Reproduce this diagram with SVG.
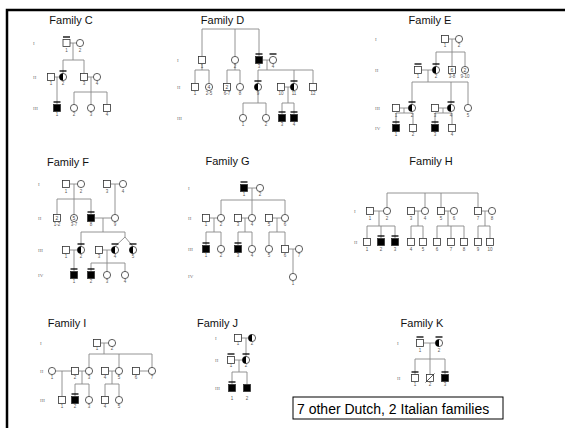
<svg xmlns="http://www.w3.org/2000/svg" xmlns:xlink="http://www.w3.org/1999/xlink" width="565" height="428" viewBox="0 0 565 428">
<style>
.s{fill:#fff;stroke:#333;stroke-width:0.8}
.f{fill:#000}
.t{stroke:#000;stroke-width:1.3}
.ln{fill:none;stroke:#888;stroke-width:0.9}
.ttl{font-family:"Liberation Sans",Arial,sans-serif;font-size:11px;fill:#111;text-anchor:middle}
.lb{font-family:"Liberation Sans",Arial,sans-serif;font-size:4.5px;fill:#555;text-anchor:middle}
.in{font-family:"Liberation Sans",Arial,sans-serif;font-size:5px;fill:#444;text-anchor:middle}
.rn{font-family:"Liberation Serif","Times New Roman",serif;font-size:5px;fill:#777}
</style>
<defs>
<rect id="sq" class="s" x="-3.5" y="-3.5" width="7" height="7"/>
<rect id="sqf" class="s f" x="-3.5" y="-3.5" width="7" height="7"/>
<circle id="ci" class="s" r="3.6"/>
<g id="ch"><circle class="s" r="3.6"/><path class="f" d="M0,-3.6A3.6,3.6 0 0 0 0,3.6Z"/></g>
<line id="tk" class="t" x1="-3.5" y1="-6" x2="3.5" y2="-6"/>
</defs>
<rect width="565" height="428" fill="#fff"/>
<g id="frame"><path d="M7,428V10H565" fill="none" stroke="#000" stroke-width="2.5"/></g>

<g id="connectors">
<path class="ln" d="M70,43H76.4M73,43V60M63,60H84M63,60V73.4M84,60V73.5M54.5,77H59.4M57,77V104.5M87.5,77H93.4M91,77V92M74,92H107M74,92V104.4M91,92V104.4M107,92V104.5"/>
<path class="ln" d="M202,29H259M202,29V56.5M235,29V56.4M259,29V56.5M262.5,60H269.4M202,63.5V70M195,70H209M195,70V83.5M209,70V83.4M235,63.6V70M227,70H240M227,70V83.5M240,70V83.4M267,60V70M258,70H313M258,70V83.4M294,70V83.4M313,70V83.5M284.5,87H290.4M288,87V103M282,103H294M282,103V114.5M294,103V114.5M258,90.6V103M243,103H266M243,103V114.4M266,103V114.4"/>
<path class="ln" d="M448.5,39H455.4M452,39V52M436,52H465M436,52V66.4M452,52V66.5M465,52V66.4M421.5,70H432.4M428,70V82M412,82H468M412,82V104.4M451,82V104.4M468,82V104.4M399.5,108H408.4M404,108V113M396,113H413M396,113V124.5M413,113V124.5M438.5,108H447.4M443,108V113M435,113H452M435,113V124.5M452,113V124.5"/>
<path class="ln" d="M69.5,184H77.4M74,184V199M57,199H91M57,199V214.5M74,199V214.4M91,199V214.5M110.5,184H119.4M115,184V214.4M94.5,218H111.4M103,218V232M81,232H125M81,232V246.4M125,232V237L115,246.5M125,237L133,246.5M69.5,250H77.4M74,250V271.5M102.5,250H111.4M107,250V263M91,263H125M91,263V271.5M107,263V271.4M125,263V271.4"/>
<path class="ln" d="M247.5,188H256.4M252,188V200M221,200H285M221,200V214.4M252,200V214.4M285,200V214.4M209.5,218H217.4M214,218V232M206,232H221M206,232V245.5M221,232V245.4M241.5,218H248.4M245,218V232M238,232H252M238,232V245.5M252,232V245.4M272.5,218H281.4M277,218V232M269,232H285M269,232V245.4M285,232V245.5M288.5,249H295.4M293,249V273.4"/>
<path class="ln" d="M387,193H478M387,193V207.4M425,193V207.4M441,193V207.5M478,193V207.5M373.5,211H383.4M379,211V226M367,226H395M367,226V238.5M381,226V238.5M395,226V238.5M414.5,211H421.4M418,211V226M411,226H423M411,226V238.5M423,226V238.5M444.5,211H450.4M448,211V226M437,226H464M437,226V238.5M451,226V238.5M464,226V238.5M481.5,211H488.4M485,211V226M478,226H490M478,226V238.5M490,226V238.5"/>
<path class="ln" d="M100.5,343H108.4M104,343V354M89,354H152M89,354V367.4M119,354V367.4M152,354V367.4M55.6,371H71.5M62,371V396.5M78.5,371H85.4M82,371V384M75,384H89M75,384V396.5M89,384V396.4M108.5,371H115.4M112,371V384M105,384H119M105,384V396.5M119,384V396.4M139.5,371H148.4"/>
<path class="ln" d="M241.5,338H248.4M246,338V356.4M234.5,360H242.4M239,360V372M232,372H247M232,372V384.5M247,372V384.5"/>
<path class="ln" d="M423.5,343H435.4M430,343V359M415,359H445M415,359V374.5M430,359V374.5M445,359V374.5"/>
</g>

<g id="familyC">
<text class="ttl" x="71" y="24">Family C</text>
<text class="rn" x="33" y="44.5">I</text><text class="rn" x="33" y="78.5">II</text><text class="rn" x="33" y="109.5">III</text>
<g id="C-I1"><use href="#sq" x="66.5" y="43"/><use href="#tk" x="66.5" y="43"/><text class="lb" x="66.5" y="52">1</text></g>
<g id="C-I2"><use href="#ci" x="80" y="43"/><text class="lb" x="80" y="52">2</text></g>
<g id="C-II1"><use href="#sq" x="51" y="77"/><text class="lb" x="51" y="85">1</text></g>
<g id="C-II2"><use href="#ch" x="63" y="77"/><use href="#tk" x="63" y="77"/><text class="lb" x="63" y="85">2</text></g>
<g id="C-II3"><use href="#sq" x="84" y="77"/><text class="lb" x="84" y="85">3</text></g>
<g id="C-II4"><use href="#ci" x="97" y="77"/><text class="lb" x="97" y="85">4</text></g>
<g id="C-III1"><use href="#sqf" x="57" y="108"/><use href="#tk" x="57" y="108"/><text class="lb" x="57" y="116">1</text></g>
<g id="C-III2"><use href="#ci" x="74" y="108"/><text class="lb" x="74" y="116">2</text></g>
<g id="C-III3"><use href="#ci" x="91" y="108"/><text class="lb" x="91" y="116">3</text></g>
<g id="C-III4"><use href="#sq" x="107" y="108"/><text class="lb" x="107" y="116">4</text></g>
</g>

<g id="familyD">
<text class="ttl" x="222.5" y="24">Family D</text>
<text class="rn" x="177" y="61.5">I</text><text class="rn" x="177" y="88.5">II</text><text class="rn" x="177" y="119.5">III</text>
<g id="D-I1"><use href="#sq" x="202" y="60"/><text class="lb" x="202" y="68">1</text></g>
<g id="D-I2"><use href="#ci" x="235" y="60"/><text class="lb" x="235" y="68">2</text></g>
<g id="D-I3"><use href="#sqf" x="259" y="60"/><use href="#tk" x="259" y="60"/><text class="lb" x="259" y="68">3</text></g>
<g id="D-I4"><use href="#ci" x="273" y="60"/><use href="#tk" x="273" y="60"/><text class="lb" x="273" y="68">4</text></g>
<g id="D-II1"><use href="#sq" x="195" y="87"/><text class="lb" x="195" y="95">1</text></g>
<g id="D-II2"><use href="#ci" x="209" y="87"/><text class="in" x="209" y="88.8">4</text><text class="lb" x="209" y="95">2-5</text></g>
<g id="D-II6"><use href="#sq" x="227" y="87"/><text class="in" x="227" y="88.8">2</text><text class="lb" x="227" y="95">6-7</text></g>
<g id="D-II8"><use href="#ci" x="240" y="87"/><text class="lb" x="240" y="95">8</text></g>
<g id="D-II9"><use href="#ch" x="258" y="87"/><use href="#tk" x="258" y="87"/><text class="lb" x="258" y="95">9</text></g>
<g id="D-II10"><use href="#sq" x="281" y="87"/><text class="lb" x="281" y="95">10</text></g>
<g id="D-II11"><use href="#ch" x="294" y="87"/><use href="#tk" x="294" y="87"/><text class="lb" x="294" y="95">11</text></g>
<g id="D-II12"><use href="#sq" x="313" y="87"/><text class="lb" x="313" y="95">12</text></g>
<g id="D-III1"><use href="#ci" x="243" y="118"/><text class="lb" x="243" y="126">1</text></g>
<g id="D-III2"><use href="#ci" x="266" y="118"/><text class="lb" x="266" y="126">2</text></g>
<g id="D-III3"><use href="#sqf" x="282" y="118"/><use href="#tk" x="282" y="118"/><text class="lb" x="282" y="126">3</text></g>
<g id="D-III4"><use href="#sqf" x="294" y="118"/><use href="#tk" x="294" y="118"/><text class="lb" x="294" y="126">4</text></g>
</g>

<g id="familyE">
<text class="ttl" x="430" y="24">Family E</text>
<text class="rn" x="375" y="40.5">I</text><text class="rn" x="375" y="71.5">II</text><text class="rn" x="375" y="109.5">III</text><text class="rn" x="375" y="129.5">IV</text>
<g id="E-I1"><use href="#sq" x="445" y="39"/><text class="lb" x="445" y="47">1</text></g>
<g id="E-I2"><use href="#ci" x="459" y="39"/><text class="lb" x="459" y="47">2</text></g>
<g id="E-II1"><use href="#sq" x="418" y="70"/><use href="#tk" x="418" y="70"/><text class="lb" x="418" y="78">1</text></g>
<g id="E-II2"><use href="#ch" x="436" y="70"/><use href="#tk" x="436" y="70"/><text class="lb" x="436" y="78">2</text></g>
<g id="E-II3"><use href="#sq" x="452" y="70"/><text class="in" x="452" y="71.8">6</text><text class="lb" x="452" y="78">3-8</text></g>
<g id="E-II9"><use href="#ci" x="465" y="70"/><text class="in" x="465" y="71.8">2</text><text class="lb" x="465" y="78">9-10</text></g>
<g id="E-III1"><use href="#sq" x="396" y="108"/><text class="lb" x="396" y="116.5">1</text></g>
<g id="E-III2"><use href="#ch" x="412" y="108"/><use href="#tk" x="412" y="108"/><text class="lb" x="412" y="116.5">2</text></g>
<g id="E-III3"><use href="#sq" x="435" y="108"/><text class="lb" x="435" y="116.5">3</text></g>
<g id="E-III4"><use href="#ch" x="451" y="108"/><use href="#tk" x="451" y="108"/><text class="lb" x="451" y="116.5">4</text></g>
<g id="E-III5"><use href="#ci" x="468" y="108"/><text class="lb" x="468" y="116.5">5</text></g>
<g id="E-IV1"><use href="#sqf" x="396" y="128"/><use href="#tk" x="396" y="128"/><text class="lb" x="396" y="136">1</text></g>
<g id="E-IV2"><use href="#sq" x="413" y="128"/><text class="lb" x="413" y="136">2</text></g>
<g id="E-IV3"><use href="#sqf" x="435" y="128"/><use href="#tk" x="435" y="128"/><text class="lb" x="435" y="136">3</text></g>
<g id="E-IV4"><use href="#sq" x="452" y="128"/><text class="lb" x="452" y="136">4</text></g>
</g>

<g id="familyF">
<text class="ttl" x="68" y="166">Family F</text>
<text class="rn" x="38" y="185.5">I</text><text class="rn" x="38" y="219.5">II</text><text class="rn" x="38" y="251.5">III</text><text class="rn" x="38" y="276.5">IV</text>
<g id="F-I1"><use href="#sq" x="66" y="184"/><text class="lb" x="66" y="193">1</text></g>
<g id="F-I2"><use href="#ci" x="81" y="184"/><text class="lb" x="81" y="193">2</text></g>
<g id="F-I3"><use href="#sq" x="107" y="184"/><text class="lb" x="107" y="193">3</text></g>
<g id="F-I4"><use href="#ci" x="123" y="184"/><text class="lb" x="123" y="193">4</text></g>
<g id="F-II1"><use href="#sq" x="57" y="218"/><text class="in" x="57" y="219.8">2</text><text class="lb" x="57" y="226">1-2</text></g>
<g id="F-II3"><use href="#ci" x="74" y="218"/><text class="in" x="74" y="219.8">5</text><text class="lb" x="74" y="226">3-7</text></g>
<g id="F-II8"><use href="#sqf" x="91" y="218"/><use href="#tk" x="91" y="218"/><text class="lb" x="91" y="226">8</text></g>
<g id="F-II9"><use href="#ci" x="115" y="218"/><text class="lb" x="115" y="226">9</text></g>
<g id="F-III1"><use href="#sq" x="66" y="250"/><text class="lb" x="66" y="258">1</text></g>
<g id="F-III2"><use href="#ch" x="81" y="250"/><use href="#tk" x="81" y="250"/><text class="lb" x="81" y="258">2</text></g>
<g id="F-III3"><use href="#sq" x="99" y="250"/><text class="lb" x="99" y="258">3</text></g>
<g id="F-III4"><use href="#ch" x="115" y="250"/><use href="#tk" x="115" y="250"/><text class="lb" x="115" y="258">4</text></g>
<g id="F-III5"><use href="#ch" x="133" y="250"/><use href="#tk" x="133" y="250"/><text class="lb" x="133" y="258">5</text></g>
<g id="F-IV1"><use href="#sqf" x="74" y="275"/><use href="#tk" x="74" y="275"/><text class="lb" x="74" y="283">1</text></g>
<g id="F-IV2"><use href="#sqf" x="91" y="275"/><use href="#tk" x="91" y="275"/><text class="lb" x="91" y="283">2</text></g>
<g id="F-IV3"><use href="#ci" x="107" y="275"/><text class="lb" x="107" y="283">3</text></g>
<g id="F-IV4"><use href="#ci" x="125" y="275"/><text class="lb" x="125" y="283">4</text></g>
</g>

<g id="familyG">
<text class="ttl" x="227.5" y="165">Family G</text>
<text class="rn" x="188" y="189.5">I</text><text class="rn" x="188" y="219.5">II</text><text class="rn" x="188" y="250.5">III</text><text class="rn" x="188" y="277.5">IV</text>
<g id="G-I1"><use href="#sqf" x="244" y="188"/><use href="#tk" x="244" y="188"/><text class="lb" x="244" y="196">1</text></g>
<g id="G-I2"><use href="#ci" x="260" y="188"/><text class="lb" x="260" y="196">2</text></g>
<g id="G-II1"><use href="#sq" x="206" y="218"/><text class="lb" x="206" y="226">1</text></g>
<g id="G-II2"><use href="#ci" x="221" y="218"/><text class="lb" x="221" y="226">2</text></g>
<g id="G-II3"><use href="#sq" x="238" y="218"/><text class="lb" x="238" y="226">3</text></g>
<g id="G-II4"><use href="#ci" x="252" y="218"/><text class="lb" x="252" y="226">4</text></g>
<g id="G-II5"><use href="#sq" x="269" y="218"/><text class="lb" x="269" y="226">5</text></g>
<g id="G-II6"><use href="#ci" x="285" y="218"/><text class="lb" x="285" y="226">6</text></g>
<g id="G-III1"><use href="#sqf" x="206" y="249"/><use href="#tk" x="206" y="249"/><text class="lb" x="206" y="257">1</text></g>
<g id="G-III2"><use href="#ci" x="221" y="249"/><text class="lb" x="221" y="257">2</text></g>
<g id="G-III3"><use href="#sqf" x="238" y="249"/><use href="#tk" x="238" y="249"/><text class="lb" x="238" y="257">3</text></g>
<g id="G-III4"><use href="#ci" x="252" y="249"/><text class="lb" x="252" y="257">4</text></g>
<g id="G-III5"><use href="#ci" x="269" y="249"/><text class="lb" x="269" y="257">5</text></g>
<g id="G-III6"><use href="#sq" x="285" y="249"/><text class="lb" x="285" y="257">6</text></g>
<g id="G-III7"><use href="#ci" x="299" y="249"/><text class="lb" x="299" y="257">7</text></g>
<g id="G-IV1"><use href="#ci" x="293" y="277"/><text class="lb" x="293" y="285">1</text></g>
</g>

<g id="familyH">
<text class="ttl" x="431" y="165">Family H</text>
<text class="rn" x="354" y="212.5">I</text><text class="rn" x="354" y="243.5">II</text>
<g id="H-I1"><use href="#sq" x="370" y="211"/><text class="lb" x="370" y="219.5">1</text></g>
<g id="H-I2"><use href="#ci" x="387" y="211"/><text class="lb" x="387" y="219.5">2</text></g>
<g id="H-I3"><use href="#sq" x="411" y="211"/><text class="lb" x="411" y="219.5">3</text></g>
<g id="H-I4"><use href="#ci" x="425" y="211"/><text class="lb" x="425" y="219.5">4</text></g>
<g id="H-I5"><use href="#sq" x="441" y="211"/><text class="lb" x="441" y="219.5">5</text></g>
<g id="H-I6"><use href="#ci" x="454" y="211"/><text class="lb" x="454" y="219.5">6</text></g>
<g id="H-I7"><use href="#sq" x="478" y="211"/><text class="lb" x="478" y="219.5">7</text></g>
<g id="H-I8"><use href="#ci" x="492" y="211"/><text class="lb" x="492" y="219.5">8</text></g>
<g id="H-II1"><use href="#sq" x="367" y="242"/><text class="lb" x="367" y="250.5">1</text></g>
<g id="H-II2"><use href="#sqf" x="381" y="242"/><use href="#tk" x="381" y="242"/><text class="lb" x="381" y="250.5">2</text></g>
<g id="H-II3"><use href="#sqf" x="395" y="242"/><use href="#tk" x="395" y="242"/><text class="lb" x="395" y="250.5">3</text></g>
<g id="H-II4"><use href="#sq" x="411" y="242"/><text class="lb" x="411" y="250.5">4</text></g>
<g id="H-II5"><use href="#sq" x="423" y="242"/><text class="lb" x="423" y="250.5">5</text></g>
<g id="H-II6"><use href="#sq" x="437" y="242"/><text class="lb" x="437" y="250.5">6</text></g>
<g id="H-II7"><use href="#sq" x="451" y="242"/><text class="lb" x="451" y="250.5">7</text></g>
<g id="H-II8"><use href="#sq" x="464" y="242"/><text class="lb" x="464" y="250.5">8</text></g>
<g id="H-II9"><use href="#sq" x="478" y="242"/><text class="lb" x="478" y="250.5">9</text></g>
<g id="H-II10"><use href="#sq" x="490" y="242"/><text class="lb" x="490" y="250.5">10</text></g>
</g>

<g id="familyI">
<text class="ttl" x="67" y="327">Family I</text>
<text class="rn" x="40" y="344.5">I</text><text class="rn" x="40" y="372.5">II</text><text class="rn" x="40" y="401.5">III</text>
<g id="I-I1"><use href="#sq" x="97" y="343"/><text class="lb" x="97" y="350">1</text></g>
<g id="I-I2"><use href="#ci" x="112" y="343"/><text class="lb" x="112" y="350">2</text></g>
<g id="I-II1"><use href="#ci" x="52" y="371"/><text class="lb" x="52" y="378.5">1</text></g>
<g id="I-II2"><use href="#sq" x="75" y="371"/><text class="lb" x="75" y="378.5">2</text></g>
<g id="I-II3"><use href="#ci" x="89" y="371"/><text class="lb" x="89" y="378.5">3</text></g>
<g id="I-II4"><use href="#sq" x="105" y="371"/><text class="lb" x="105" y="378.5">4</text></g>
<g id="I-II5"><use href="#ci" x="119" y="371"/><text class="lb" x="119" y="378.5">5</text></g>
<g id="I-II6"><use href="#sq" x="136" y="371"/><text class="lb" x="136" y="378.5">6</text></g>
<g id="I-II7"><use href="#ci" x="152" y="371"/><text class="lb" x="152" y="378.5">7</text></g>
<g id="I-III1"><use href="#sq" x="62" y="400"/><text class="lb" x="62" y="408">1</text></g>
<g id="I-III2"><use href="#sqf" x="75" y="400"/><use href="#tk" x="75" y="400"/><text class="lb" x="75" y="408">2</text></g>
<g id="I-III3"><use href="#ci" x="89" y="400"/><text class="lb" x="89" y="408">3</text></g>
<g id="I-III4"><use href="#sq" x="105" y="400"/><text class="lb" x="105" y="408">4</text></g>
<g id="I-III5"><use href="#ci" x="119" y="400"/><text class="lb" x="119" y="408">5</text></g>
</g>

<g id="familyJ">
<text class="ttl" x="217.5" y="327">Family J</text>
<text class="rn" x="215" y="339.5">I</text><text class="rn" x="215" y="361.5">II</text><text class="rn" x="215" y="389.5">III</text>
<g id="J-I1"><use href="#sq" x="238" y="338"/><text class="lb" x="238" y="345">1</text></g>
<g id="J-I2"><use href="#ch" x="252" y="338"/><text class="lb" x="252" y="345">2</text></g>
<g id="J-II1"><use href="#sq" x="231" y="360"/><use href="#tk" x="231" y="360"/><text class="lb" x="231" y="367">1</text></g>
<g id="J-II2"><use href="#ch" x="246" y="360"/><use href="#tk" x="246" y="360"/><text class="lb" x="246" y="367">2</text></g>
<g id="J-III1"><use href="#sqf" x="232" y="388"/><use href="#tk" x="232" y="388"/><text class="lb" x="232" y="400">1</text></g>
<g id="J-III2"><use href="#sqf" x="247" y="388"/><text class="lb" x="247" y="400">2</text></g>
</g>

<g id="familyK">
<text class="ttl" x="422" y="327">Family K</text>
<text class="rn" x="397" y="344.5">I</text><text class="rn" x="397" y="379.5">II</text>
<g id="K-I1"><use href="#sq" x="420" y="343"/><use href="#tk" x="420" y="343"/><text class="lb" x="420" y="352">1</text></g>
<g id="K-I2"><use href="#ch" x="439" y="343"/><use href="#tk" x="439" y="343"/><text class="lb" x="439" y="352">2</text></g>
<g id="K-II1"><use href="#sq" x="415" y="378"/><use href="#tk" x="415" y="378"/><text class="lb" x="415" y="386">1</text></g>
<g id="K-II2"><use href="#sq" x="430" y="378"/><path d="M425.5,382.5L434.5,373.5" stroke="#333" stroke-width="0.8"/><text class="lb" x="430" y="386">2</text></g>
<g id="K-II3"><use href="#sqf" x="445" y="378"/><use href="#tk" x="445" y="378"/><text class="lb" x="445" y="386">3</text></g>
</g>

<g id="note">
<rect x="293" y="397" width="210" height="22" fill="#fff" stroke="#000" stroke-width="1"/>
<text x="297" y="414" font-family="'Liberation Sans',Arial,sans-serif" font-size="14" fill="#000">7 other Dutch, 2 Italian families</text>
</g>
</svg>
